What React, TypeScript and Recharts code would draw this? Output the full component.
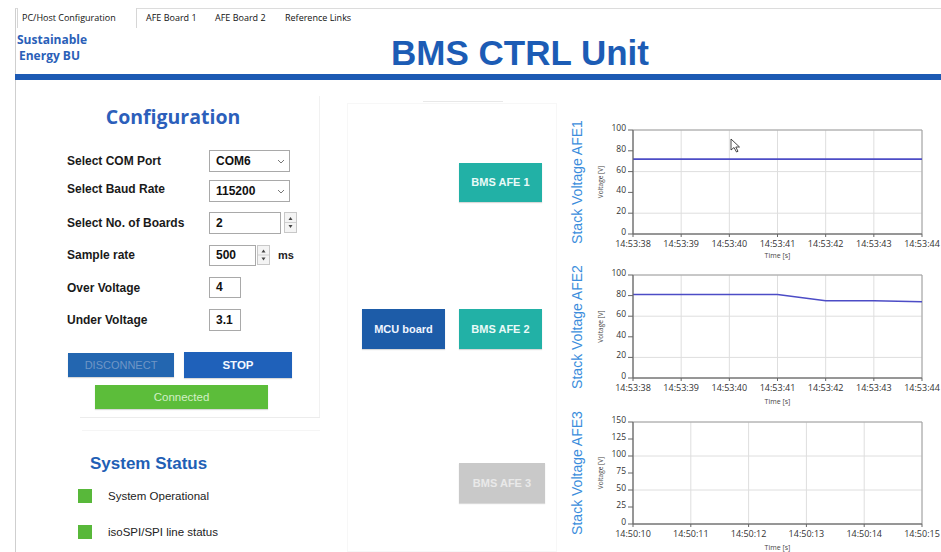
import React from 'react';
import {
  LineChart,
  Line,
  XAxis,
  YAxis,
  CartesianGrid,
  ReferenceArea,
} from 'recharts';

// time stamps and stack voltages
const afe1Times = ['14:53:38', '14:53:39', '14:53:40', '14:53:41', '14:53:42', '14:53:43', '14:53:44'];
const afe1Voltage = [72, 72, 72, 72, 72, 72, 72];

const afe2Times = ['14:53:38', '14:53:39', '14:53:40', '14:53:41', '14:53:42', '14:53:43', '14:53:44'];
const afe2Voltage = [81, 81, 81, 81, 75, 75, 74];

const afe3Times = ['14:50:10', '14:50:11', '14:50:12', '14:50:13', '14:50:14', '14:50:15'];
const afe3Voltage: (number | null)[] = [null, null, null, null, null, null];

const ticks100 = [0, 20, 40, 60, 80, 100];
const ticks150 = [0, 25, 50, 75, 100, 125, 150];

const configLabels = [
  'Select COM Port',
  'Select Baud Rate',
  'Select No. of Boards',
  'Sample rate',
  'Over Voltage',
  'Under Voltage',
];
const labelRows = [161, 189, 223, 255, 288, 320];

const tabs = ['PC/Host Configuration', 'AFE Board 1', 'AFE Board 2', 'Reference Links'];
const tabX = [22, 146, 215, 285];

const ARIAL = '"Liberation Sans", Arial, sans-serif';
const SEGOE = '"Open Sans", "Noto Sans", sans-serif';

const toRows = (times: string[], values: (number | null)[]) =>
  times.map((time, i) => ({ time, v: values[i] }));

const abs = (left: number, top: number, width?: number, height?: number): React.CSSProperties => ({
  position: 'absolute',
  left,
  top,
  width,
  height,
  boxSizing: 'border-box',
});

interface StackChartProps {
  top: number;
  plotHeight: number;
  xHeight: number;
  data: { time: string; v: number | null }[];
  yMax: number;
  yTicks: number[];
  title: string;
}

const StackChart: React.FC<StackChartProps> = ({ top, plotHeight, xHeight, data, yMax, yTicks, title }) => {
  const height = 10 + plotHeight + xHeight;
  return (
    <>
      <div
        style={{
          ...abs(577 - 80, 10 + top + plotHeight / 2 - 10, 160, 20),
          transform: 'rotate(-90deg)',
          textAlign: 'center',
          fontFamily: ARIAL,
          fontSize: 14,
          lineHeight: '20px',
          color: '#3b8ddc',
          whiteSpace: 'nowrap',
        }}
      >
        {title}
      </div>
      <div style={abs(560, top)}>
        <LineChart width={381} height={height} data={data} margin={{ top: 10, right: 19, left: 0, bottom: 0 }}>
          <CartesianGrid stroke="#dedede" />
          <ReferenceArea y1={0} y2={yMax} fill="none" stroke="#a0a0a0" strokeWidth={1} />
          <XAxis
            dataKey="time"
            interval={0}
            height={xHeight}
            stroke="#666"
            tickSize={3}
            tickMargin={4}
            tick={{ fontSize: 9, fill: '#333', fontFamily: SEGOE }}
            label={{ value: 'Time [s]', position: 'insideBottom', offset: 2, fontSize: 7, fill: '#444', fontFamily: SEGOE }}
          />
          <YAxis
            type="number"
            domain={[0, yMax]}
            allowDataOverflow
            ticks={yTicks}
            width={73}
            stroke="#666"
            tickSize={5}
            tick={{ fontSize: 8.5, fill: '#333', fontFamily: SEGOE, dy: -2 }}
            label={{
              value: 'Voltage [V]',
              angle: -90,
              position: 'insideLeft',
              offset: 41,
              fontSize: 6.5,
              fill: '#444',
              fontFamily: SEGOE,
              style: { textAnchor: 'middle' },
            }}
          />
          <Line
            type="linear"
            dataKey="v"
            stroke="#4c4cc6"
            strokeWidth={1.6}
            dot={false}
            isAnimationActive={false}
          />
        </LineChart>
      </div>
    </>
  );
};

const Chevron = ({ x, y }: { x: number; y: number }) => (
  <svg style={abs(x, y, 8, 6)} width={8} height={6}>
    <polyline points="1,1 4,4 7,1" fill="none" stroke="#777" strokeWidth={1} />
  </svg>
);

const Spinner = ({ x, y, h }: { x: number; y: number; h: number }) => (
  <svg style={abs(x, y, 13, h)} width={13} height={h}>
    <rect x={0.5} y={0.5} width={12} height={h - 1} fill="#f4f4f4" stroke="#c8c8c8" />
    <line x1={1} y1={h / 2} x2={12} y2={h / 2} stroke="#d0d0d0" />
    <polygon points={`4.5,${h / 2 - 2.5} 8.5,${h / 2 - 2.5} 6.5,${h / 2 - 5.5}`} fill="#444" />
    <polygon points={`4.5,${h / 2 + 2.5} 8.5,${h / 2 + 2.5} 6.5,${h / 2 + 5.5}`} fill="#444" />
  </svg>
);

const Input = ({ x, y, w, h, text }: { x: number; y: number; w: number; h: number; text: string }) => (
  <div
    style={{
      ...abs(x, y, w, h),
      border: '1px solid #a9a9a9',
      background: '#fff',
      fontFamily: ARIAL,
      fontWeight: 700,
      fontSize: 12,
      lineHeight: `${h - 2}px`,
      paddingLeft: 6,
      color: '#111',
    }}
  >
    {text}
  </div>
);

const Button = ({
  x, y, w, h, bg, color, text, weight = 700, size = 11.5,
}: {
  x: number; y: number; w: number; h: number; bg: string; color: string; text: string; weight?: number; size?: number;
}) => (
  <div
    style={{
      ...abs(x, y, w, h),
      background: bg,
      color,
      fontFamily: ARIAL,
      fontWeight: weight,
      fontSize: size,
      lineHeight: `${h}px`,
      textAlign: 'center',
      boxShadow: '0 1px 1px rgba(0,0,0,0.15)',
    }}
  >
    {text}
  </div>
);

export default function App() {
  return (
    <div style={{ ...abs(0, 0, 941, 552), overflow: 'hidden', background: '#fff' }}>
      {/* window frame and tab strip */}
      <div style={{ ...abs(15, 8, 926, 544), borderLeft: '1px solid #cfcfcf', borderTop: '1px solid #dcdcdc' }} />
      <div style={{ ...abs(17, 8, 120, 20), background: '#fff', borderLeft: '1px solid #d6d6d6', borderRight: '1px solid #d6d6d6' }} />
      {tabs.map((t, i) => (
        <div
          key={t}
          style={{ ...abs(tabX[i], 10, 130, 16), fontFamily: SEGOE, fontSize: 9, lineHeight: '16px', color: '#111', whiteSpace: 'nowrap' }}
        >
          {t}
        </div>
      ))}

      {/* header */}
      <div
        style={{
          ...abs(17, 32, 90, 36),
          fontFamily: SEGOE,
          fontWeight: 700,
          fontSize: 12,
          lineHeight: '16px',
          color: '#2a60b8',
        }}
      >
        Sustainable
        <br />
        <span style={{ paddingLeft: 2 }}>Energy BU</span>
      </div>
      <div
        style={{
          ...abs(340, 30, 360, 46),
          fontFamily: ARIAL,
          fontWeight: 700,
          fontSize: 35,
          lineHeight: '46px',
          color: '#1c5cb5',
          textAlign: 'center',
        }}
      >
        BMS CTRL Unit
      </div>
      <div style={{ ...abs(15, 74, 926, 6), background: '#1d5ab4' }} />

      {/* configuration panel */}
      <div style={{ ...abs(319, 96, 1, 322), background: '#f1f1f1' }} />
      <div style={{ ...abs(80, 417, 240, 1), background: '#ececec' }} />
      <div
        style={{
          ...abs(60, 104, 226, 26),
          fontFamily: SEGOE,
          fontWeight: 700,
          fontSize: 19.5,
          lineHeight: '26px',
          color: '#2c5fbb',
          textAlign: 'center',
        }}
      >
        Configuration
      </div>
      {configLabels.map((l, i) => (
        <div
          key={l}
          style={{
            ...abs(67, labelRows[i] - 8, 140, 16),
            fontFamily: ARIAL,
            fontWeight: 700,
            fontSize: 12,
            lineHeight: '16px',
            color: '#1a1a1a',
            whiteSpace: 'nowrap',
          }}
        >
          {l}
        </div>
      ))}
      <Input x={209} y={150} w={81} h={22} text="COM6" />
      <Chevron x={277} y={159} />
      <Input x={209} y={180} w={81} h={22} text="115200" />
      <Chevron x={277} y={189} />
      <Input x={209} y={212} w={72} h={22} text="2" />
      <Spinner x={284} y={212} h={21} />
      <Input x={209} y={245} w={47} h={21} text="500" />
      <Spinner x={257} y={245} h={20} />
      <div style={{ ...abs(278, 247, 20, 16), fontFamily: ARIAL, fontWeight: 700, fontSize: 11, lineHeight: '16px', color: '#222' }}>
        ms
      </div>
      <Input x={209} y={277} w={32} h={21} text="4" />
      <Input x={209} y={309} w={32} h={22} text="3.1" />

      <Button x={68} y={353} w={106} h={24} bg="#2366b0" color="#6f96c6" text="DISCONNECT" weight={400} size={11} />
      <Button x={184} y={352} w={108} h={26} bg="#1f61ba" color="#f4f8ff" text="STOP" />
      <Button x={95} y={385} w={173} h={24} bg="#5cbd3a" color="#d2f0c6" text="Connected" weight={400} size={11.5} />

      {/* system status */}
      <div style={{ ...abs(82, 430, 238, 1), background: '#f5f5f5' }} />
      <div
        style={{
          ...abs(90, 453, 160, 22),
          fontFamily: ARIAL,
          fontWeight: 700,
          fontSize: 17,
          lineHeight: '22px',
          color: '#1f5fb5',
        }}
      >
        System Status
      </div>
      <div style={{ ...abs(78, 489, 14, 14), background: '#58b83a' }} />
      <div style={{ ...abs(78, 525, 14, 14), background: '#58b83a' }} />
      <div style={{ ...abs(108, 488, 200, 16), fontFamily: ARIAL, fontSize: 11.5, lineHeight: '16px', color: '#222' }}>
        System Operational
      </div>
      <div style={{ ...abs(108, 524, 200, 16), fontFamily: ARIAL, fontSize: 11.5, lineHeight: '16px', color: '#222' }}>
        isoSPI/SPI line status
      </div>

      {/* board diagram */}
      <div style={{ ...abs(347, 103, 210, 449), border: '1px solid #f7f7f7' }} />
      <div style={{ ...abs(423, 101, 80, 1), background: '#e8e8e8' }} />
      <Button x={459} y={163} w={83} h={39} bg="#22b1a6" color="#eafaf8" text="BMS AFE 1" size={11} />
      <Button x={362} y={309} w={83} h={40} bg="#1d5ca8" color="#f0f5ff" text="MCU board" size={11} />
      <Button x={459} y={309} w={83} h={40} bg="#22b1a6" color="#eafaf8" text="BMS AFE 2" size={11} />
      <Button x={459} y={463} w={86} h={40} bg="#c9c9c9" color="#e9e9e9" text="BMS AFE 3" size={11} />

      {/* voltage plots */}
      <StackChart top={120} plotHeight={104} xHeight={26} data={toRows(afe1Times, afe1Voltage)} yMax={100} yTicks={ticks100} title="Stack Voltage AFE1" />
      <StackChart top={265} plotHeight={103} xHeight={28} data={toRows(afe2Times, afe2Voltage)} yMax={100} yTicks={ticks100} title="Stack Voltage AFE2" />
      <StackChart top={412} plotHeight={102} xHeight={28} data={toRows(afe3Times, afe3Voltage)} yMax={150} yTicks={ticks150} title="Stack Voltage AFE3" />

      {/* mouse pointer over the first plot */}
      <svg style={abs(730, 138, 12, 16)} width={12} height={16}>
        <polygon points="1,1 1,12 4,9.5 6.5,14 8,13.3 5.8,9 9.5,9" fill="#fff" stroke="#333" strokeWidth={0.9} />
      </svg>
    </div>
  );
}
